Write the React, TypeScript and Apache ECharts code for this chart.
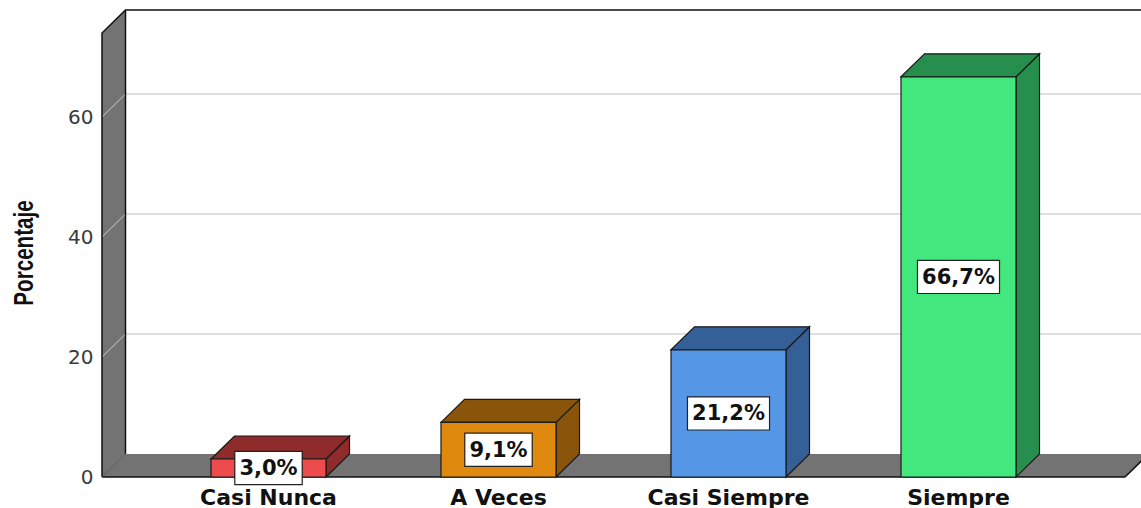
import { useEffect, useRef } from "react";
import * as echarts from "echarts";

// Response categories and their percentages
const categories = ["Casi Nunca", "A Veces", "Casi Siempre", "Siempre"];
const percentages = [3.0, 9.1, 21.2, 66.7];
// Face colours per bar: front face and the darker top/side faces
const frontColors = ["#ee4c4c", "#e0890f", "#5596e6", "#42e87d"];
const sideColors = ["#8f2b2b", "#8a540b", "#355f97", "#278f4d"];
// Value-axis ticks
const yTicks = [0, 20, 40, 60];
const Y_MAX = 74;

// 3D depth offset of the chamber and the bars
const DX = 23.5;
const DY = 23;
// How far the floor and wall reach beyond the category band
const WALL_PAD = 51.5;
const WALL_FILL = "#737373";

const fmt = (v: number) => v.toFixed(1).replace(".", ",") + "%";

const renderChamber = (params: any, api: any) => {
  const cs = params.coordSys;
  const x0 = cs.x - WALL_PAD;
  const x1 = cs.x + cs.width + WALL_PAD;
  const bx0 = x0 + DX;
  const yBase = api.coord([0, 0])[1];
  const yTop = api.coord([0, Y_MAX])[1];
  const edge = { stroke: "#111", lineWidth: 1.5 };
  const children: any[] = [
    {
      type: "polygon",
      shape: { points: [[x0, yTop], [bx0, yTop - DY], [bx0, yBase - DY], [x0, yBase]] },
      style: { fill: WALL_FILL },
    },
    {
      type: "polygon",
      shape: { points: [[x0, yBase], [bx0, yBase - DY], [x1 + DX, yBase - DY], [x1, yBase]] },
      style: { fill: WALL_FILL },
    },
  ];
  yTicks
    .filter((t) => t > 0)
    .forEach((t) => {
      const y = api.coord([0, t])[1];
      children.push({
        type: "line",
        shape: { x1: x0, y1: y, x2: bx0, y2: y - DY },
        style: { stroke: "#c8c8c8", lineWidth: 1 },
      });
      children.push({
        type: "line",
        shape: { x1: bx0, y1: y - DY, x2: x1 + DX + 200, y2: y - DY },
        style: { stroke: "#c0c0c0", lineWidth: 1 },
      });
    });
  children.push(
    { type: "polyline", shape: { points: [[x0, yBase], [x0, yTop], [bx0, yTop - DY], [x1 + DX + 200, yTop - DY]] }, style: { ...edge, fill: null } },
    { type: "line", shape: { x1: bx0, y1: yTop - DY, x2: bx0, y2: yBase - DY }, style: edge },
    { type: "line", shape: { x1: x0, y1: yBase, x2: x1, y2: yBase }, style: edge },
    { type: "line", shape: { x1: x1, y1: yBase, x2: x1 + DX, y2: yBase - DY }, style: edge },
    { type: "line", shape: { x1: x0, y1: yBase, x2: bx0, y2: yBase - DY }, style: { stroke: "#555", lineWidth: 1 } }
  );
  return { type: "group", children };
};

const renderBar = (params: any, api: any) => {
  const i = api.value(0);
  const v = api.value(1);
  const [cx, yTop] = api.coord([i, v]);
  const yBase = api.coord([i, 0])[1];
  const w = api.size([1, 0])[0] * 0.5;
  const l = cx - w / 2;
  const r = cx + w / 2;
  const stroke = { stroke: "#1a1a1a", lineWidth: 1.2 };
  return {
    type: "group",
    children: [
      {
        type: "polygon",
        shape: { points: [[r, yTop], [r + DX, yTop - DY], [r + DX, yBase - DY], [r, yBase]] },
        style: { fill: sideColors[i], ...stroke },
      },
      {
        type: "polygon",
        shape: { points: [[l, yTop], [l + DX, yTop - DY], [r + DX, yTop - DY], [r, yTop]] },
        style: { fill: sideColors[i], ...stroke },
      },
      {
        type: "rect",
        shape: { x: l, y: yTop, width: w, height: yBase - yTop },
        style: { fill: frontColors[i], ...stroke },
      },
      {
        type: "text",
        x: cx,
        y: (yTop + yBase) / 2,
        style: {
          text: fmt(v),
          font: "bold 21px 'DejaVu Sans'",
          fill: "#111",
          align: "center",
          verticalAlign: "middle",
          backgroundColor: "#fff",
          borderColor: "#222",
          borderWidth: 1.2,
          padding: [3, 4, 3, 4],
          lineHeight: 26,
        },
      },
    ],
  };
};

export default function App() {
  const ref = useRef<HTMLDivElement>(null);
  useEffect(() => {
    const chart = echarts.init(ref.current!, null, { renderer: "svg" });
    chart.setOption({
      animation: false,
      backgroundColor: "#ffffff",
      grid: { left: 153.5, top: 33, width: 920, height: 444 },
      xAxis: {
        type: "category",
        data: categories,
        axisLine: { show: false },
        axisTick: { show: false },
        axisLabel: {
          interval: 0,
          margin: 9,
          fontFamily: "DejaVu Sans",
          fontWeight: "bold",
          fontSize: 22,
          color: "#111",
        },
      },
      yAxis: {
        type: "value",
        min: 0,
        max: Y_MAX,
        interval: 20,
        axisLine: { show: false },
        axisTick: { show: false },
        splitLine: { show: false },
        axisLabel: {
          margin: 60,
          fontFamily: "DejaVu Sans",
          fontSize: 20,
          color: "#3a3a3a",
          formatter: (v: number) => (yTicks.includes(v) ? String(v) : ""),
        },
      },
      graphic: [
        {
          type: "text",
          x: 23,
          y: 253,
          rotation: Math.PI / 2,
          scaleX: 1.03,
          scaleY: 1.4,
          style: {
            text: "Porcentaje",
            font: "bold 20px 'Liberation Sans'",
            fill: "#111",
            align: "center",
            verticalAlign: "middle",
          },
        },
      ],
      series: [
        { type: "custom", renderItem: renderChamber, data: [[0, 0]], z: 1, silent: true },
        {
          type: "custom",
          renderItem: renderBar,
          data: percentages.map((v, i) => [i, v]),
          z: 2,
        },
      ],
    });
    return () => chart.dispose();
  }, []);
  return (
    <div
      ref={ref}
      style={{ position: "absolute", left: 0, top: 0, width: 1141, height: 508 }}
    />
  );
}
